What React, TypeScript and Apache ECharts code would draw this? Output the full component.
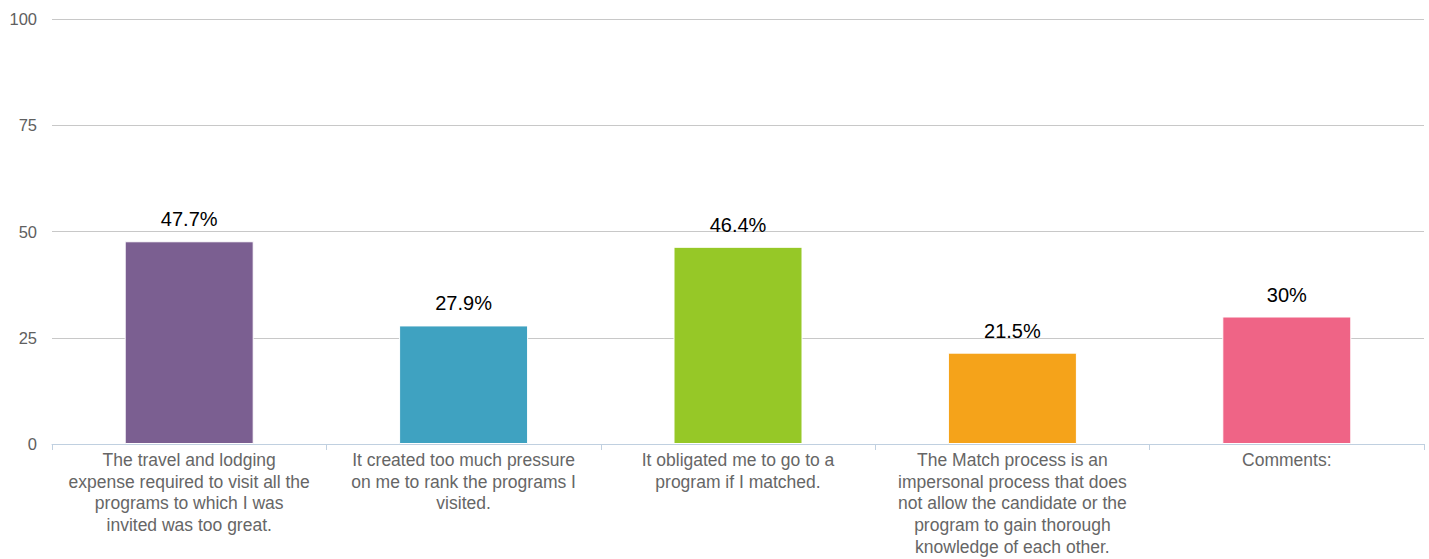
import React, { useEffect, useRef } from "react";
import * as echarts from "echarts";

const categories = [
  "The travel and lodging\nexpense required to visit all the\nprograms to which I was\ninvited was too great.",
  "It created too much pressure\non me to rank the programs I\nvisited.",
  "It obligated me to go to a\nprogram if I matched.",
  "The Match process is an\nimpersonal process that does\nnot allow the candidate or the\nprogram to gain thorough\nknowledge of each other.",
  "Comments:",
];
const values = [47.7, 27.9, 46.4, 21.5, 30];
const valueLabels = ["47.7%", "27.9%", "46.4%", "21.5%", "30%"];
const barColors = ["#7b5f91", "#3fa2c1", "#96c827", "#f5a31a", "#ef6486"];
const yTicks = { min: 0, max: 100, interval: 25 };

const FONT = "'Liberation Sans', Arial, Helvetica, sans-serif";

export default function App() {
  const ref = useRef<HTMLDivElement>(null);
  useEffect(() => {
    document.body.style.margin = "0";
    if (!ref.current) return;
    const chart = echarts.init(ref.current, undefined, { renderer: "svg" });
    chart.setOption({
      animation: false,
      grid: { left: 52, right: 5, top: 19, bottom: 115, containLabel: false },
      xAxis: {
        type: "category",
        data: categories,
        axisLine: { show: true, lineStyle: { color: "#c0d0e0", width: 1 } },
        axisTick: { show: true, length: 6, lineStyle: { color: "#c0d0e0" }, alignWithLabel: false },
        axisLabel: {
          interval: 0,
          margin: 5,
          color: "#666666",
          fontSize: 17.5,
          lineHeight: 21.7,
          fontFamily: FONT,
          align: "center",
          verticalAlign: "top",
        },
        splitLine: { show: false },
      },
      yAxis: {
        type: "value",
        min: yTicks.min,
        max: yTicks.max,
        interval: yTicks.interval,
        axisLine: { show: false },
        axisTick: { show: false },
        axisLabel: { color: "#606060", fontSize: 16.5, fontFamily: FONT, margin: 15 },
        splitLine: { show: true, lineStyle: { color: "#c8c8c8", width: 1 } },
      },
      series: [
        {
          type: "bar",
          barWidth: 129,
          data: values.map((v, i) => ({
            value: v,
            itemStyle: { color: barColors[i], borderColor: "#ffffff", borderWidth: 1 },
          })),
          label: {
            show: true,
            position: "top",
            distance: 12,
            color: "#000000",
            fontSize: 20,
            fontFamily: FONT,
            formatter: (p: any) => valueLabels[p.dataIndex],
          },
        },
      ],
    });
    return () => chart.dispose();
  }, []);
  return <div ref={ref} style={{ width: 1429, height: 559 }} />;
}
